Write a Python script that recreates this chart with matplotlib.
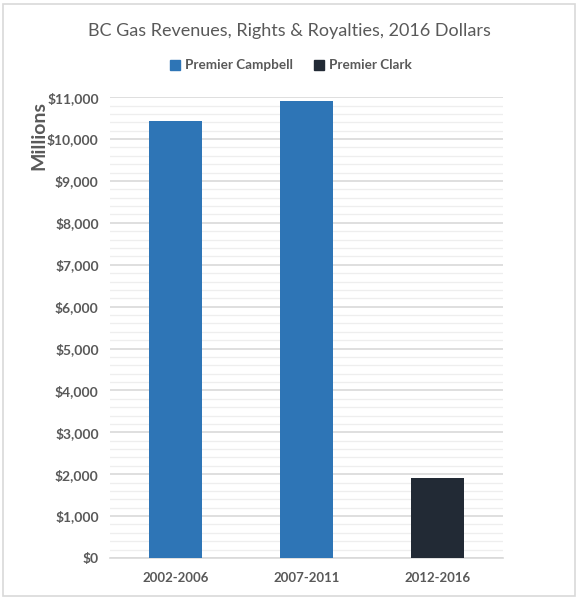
import matplotlib.pyplot as plt
from matplotlib.patches import Patch, Rectangle
from matplotlib.ticker import MultipleLocator, FuncFormatter

periods = ['2002-2006', '2007-2011', '2012-2016']
revenues = [10430, 10920, 1910]   # millions, 2016 dollars
premier = ['Premier Campbell', 'Premier Campbell', 'Premier Clark']
colours = {'Premier Campbell': '#2E75B6', 'Premier Clark': '#222A35'}

plt.rcParams['font.family'] = ['Lato', 'DejaVu Sans']
txt = '#595959'

fig = plt.figure(figsize=(5.78, 6.0), dpi=100)
ax = fig.add_axes([0.190, 0.070, 0.680, 0.768])

x = range(len(periods))
ax.bar(x, revenues, width=0.4, color=[colours[p] for p in premier], zorder=3)

ax.set_ylim(0, 11000)
ax.set_xlim(-0.5, 2.5)
ax.yaxis.set_major_locator(MultipleLocator(1000))
ax.yaxis.set_minor_locator(MultipleLocator(200))
ax.yaxis.set_major_formatter(FuncFormatter(lambda v, p: f'${v:,.0f}'))
ax.grid(axis='y', which='major', color='#D9D9D9', lw=1.2, zorder=0)
ax.grid(axis='y', which='minor', color='#EEEEEE', lw=0.9, zorder=0)
ax.set_xticks(list(x))
ax.set_xticklabels(periods)
ax.tick_params(axis='both', which='both', length=0, colors=txt, labelsize=10)
ax.tick_params(axis='x', labelsize=9.5, pad=10)
ax.tick_params(axis='y', pad=8)
for lab in ax.get_xticklabels() + ax.get_yticklabels():
    lab.set_fontweight('bold')
for s in ['top', 'right', 'left']:
    ax.spines[s].set_visible(False)
ax.spines['bottom'].set_color('#D9D9D9')
ax.spines['bottom'].set_linewidth(1.2)

fig.text(0.068, 0.775, 'Millions', rotation=90, ha='center', va='center',
         fontsize=14, fontweight='bold', color=txt)
fig.text(0.5, 0.949, 'BC Gas Revenues, Rights & Royalties, 2016 Dollars',
         ha='center', va='center', fontsize=13, color=txt)

handles = [Patch(color=colours[k]) for k in colours]
fig.legend(handles, list(colours), loc='center', bbox_to_anchor=(0.503, 0.891),
           ncol=2, frameon=False, handlelength=0.75, handleheight=0.75,
           columnspacing=1.6, handletextpad=0.35,
           prop={'weight': 'bold', 'size': 9.7}, labelcolor=txt)

fig.patches.append(Rectangle((0.006, 0.006), 0.988, 0.988, transform=fig.transFigure,
                             fill=False, edgecolor='#D9D9D9', lw=1.2))

fig.savefig('out.png', dpi=100)
